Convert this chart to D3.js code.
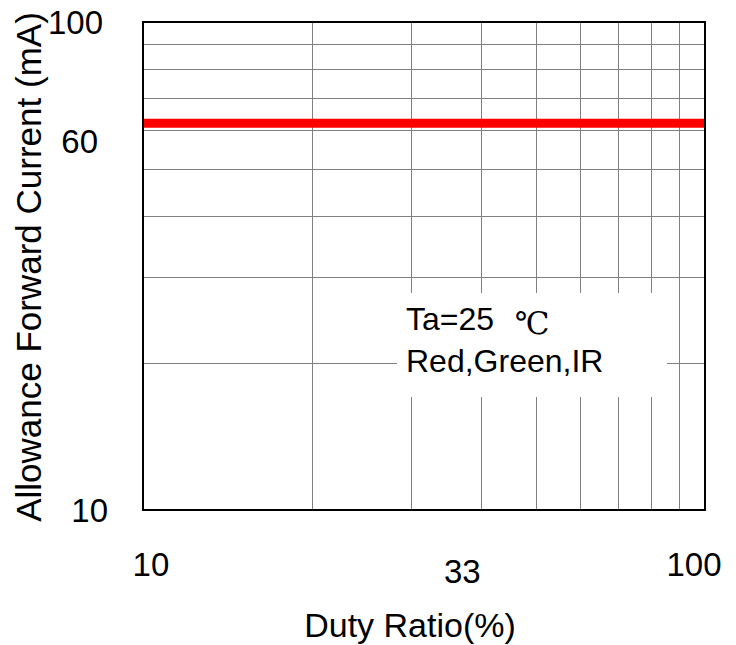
<!DOCTYPE html>
<html>
<head>
<meta charset='utf-8'>
<style>
body { margin: 0; background: #fff; }
text { font-family: 'Liberation Sans', Arial, sans-serif; fill: #000; }
.grid line { stroke: #808080; stroke-width: 1px; shape-rendering: crispEdges; }
.frame { fill: none; stroke: #000; stroke-width: 2px; }
.curve { fill: none; stroke: #ff0000; stroke-width: 9px; }
</style>
<script src='https://cdnjs.cloudflare.com/ajax/libs/d3/7.8.5/d3.min.js'></script>
</head>
<body>
<svg id='chart1' width='736' height='645'></svg>
<script>
// duty ratio (%) vs allowable forward current (mA)
var dutyRatio = [10, 100];
var forwardCurrent = [62, 62];

// grid lines on the log axes
var xGrid = [20, 30, 40, 50, 60, 70, 80, 90];
var yGrid = [20, 30, 40, 50, 60, 70, 80, 90];

// tick labels and where they sit (data units)
var xTickLabels = ['10', '33', '100'];
var xTickAt = [10.33, 37, 95.6];
var yTickLabels = ['100', '60', '10'];
var yTickAt = [100, 57, 10];

var svg = d3.select('#chart1');
var margin = {top: 22, right: 31, bottom: 135, left: 143};
var width = +svg.attr('width') - margin.left - margin.right;
var height = +svg.attr('height') - margin.top - margin.bottom;

var g = svg.append('g')
    .attr('transform', 'translate(' + margin.left + ',' + margin.top + ')');

var x = d3.scaleLog().domain([10, 100]).range([0, width]);
var y = d3.scaleLog().domain([10, 100]).range([height, 0]);

var grid = g.append('g').attr('class', 'grid');
grid.selectAll('.vx').data(xGrid).enter().append('line')
    .attr('class', 'vx')
    .attr('x1', function(d) { return Math.round(x(d)) + 0.5; })
    .attr('x2', function(d) { return Math.round(x(d)) + 0.5; })
    .attr('y1', 0).attr('y2', height);
grid.selectAll('.hy').data(yGrid).enter().append('line')
    .attr('class', 'hy')
    .attr('y1', function(d) { return Math.round(y(d)) + 0.5; })
    .attr('y2', function(d) { return Math.round(y(d)) + 0.5; })
    .attr('x1', 0).attr('x2', width);

// white patch behind the note
g.append('rect')
    .attr('x', 254).attr('y', 271)
    .attr('width', 270).attr('height', 104)
    .attr('fill', '#fff');

var line = d3.line()
    .x(function(d, i) { return x(dutyRatio[i]); })
    .y(function(d) { return y(d); });

g.append('path')
    .datum(forwardCurrent)
    .attr('class', 'curve')
    .attr('d', line);

g.append('rect')
    .attr('class', 'frame')
    .attr('x', 0).attr('y', 0)
    .attr('width', width).attr('height', height);

// tick labels
g.selectAll('.xl').data(xTickLabels).enter().append('text')
    .attr('class', 'xl')
    .attr('x', function(d, i) { return x(xTickAt[i]); })
    .attr('y', height + 66)
    .attr('dy', function(d, i) { return i == 1 ? 7 : 0; })
    .attr('text-anchor', 'middle')
    .style('font-size', '33px')
    .text(function(d) { return d; });

g.selectAll('.yl').data(yTickLabels).enter().append('text')
    .attr('class', 'yl')
    .attr('x', function(d, i) { return [-40, -45, -35][i]; })
    .attr('y', function(d, i) { return y(yTickAt[i]); })
    .attr('dy', '0.35em')
    .attr('text-anchor', 'end')
    .style('font-size', '33px')
    .text(function(d) { return d; });

// note
var note = g.append('text')
    .attr('x', 263).attr('y', 308)
    .style('font-size', '32px');
note.append('tspan').text('Ta=25 ');
note.append('tspan')
    .attr('dx', 12).attr('dy', 4)
    .style('font-family', "'DejaVu Serif', 'Liberation Serif', serif")
    .style('font-size', '31px')
    .text('\u2103');
g.append('text')
    .attr('x', 263).attr('y', 350)
    .style('font-size', '32px')
    .text('Red,Green,IR');

// axis titles
svg.append('text')
    .attr('x', margin.left + width / 2 - 14)
    .attr('y', 637)
    .attr('text-anchor', 'middle')
    .style('font-size', '34px')
    .text('Duty Ratio(%)');

svg.append('text')
    .attr('transform', 'translate(41,' + 267 + ') rotate(-90)')
    .attr('text-anchor', 'middle')
    .style('font-size', '35px')
    .text('Allowance Forward Current (mA)');
</script>
</body>
</html>
